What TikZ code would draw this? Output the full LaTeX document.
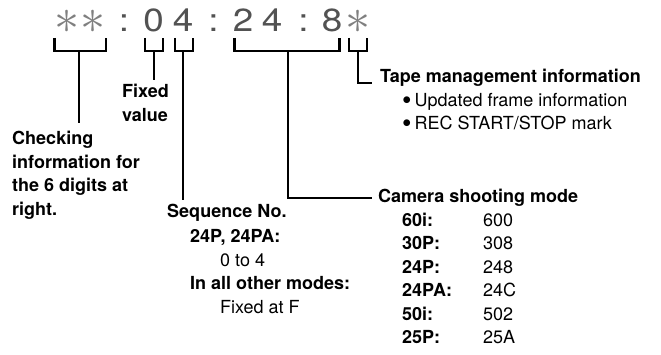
\documentclass[tikz,border=0pt]{standalone}
\usepackage{fontspec}
\setmainfont{TeX Gyre Heros}
\usepackage{graphicx}

\begin{document}
\begin{tikzpicture}[x=1pt, y=-1pt, font=\fontsize{18}{23.5}\selectfont,
		lbl/.style={anchor=base west, inner sep=0pt},
		bold/.style={lbl, font=\fontsize{18}{23.5}\selectfont\bfseries},
		digit/.style={anchor=base, inner sep=0pt, text=black!68, font=\fontsize{32}{32}\selectfont},
		star/.style={inner sep=0pt, text=black!50},
		bracket/.style={line width=2.5pt, line join=miter}]
		\useasboundingbox (0,0) rectangle (661,355);
		% time code
		\foreach \ch/\x [count=\i] in {:/124, 0/153.5, 4/183, :/213.5, 2/243, 4/272, :/303.5, 8/332}
			\node[digit] (t\i) at (\x,32) {\scalebox{1.15}[1]{\ch}};
		\foreach \x [count=\i] in {67,93,358}
			\node[star] (s\i) at (\x,22) {\scalebox{2.9}{$\ast$}};
		% brackets
		\draw[bracket] (54.5,38) -- (54.5,51) -- (106,51) -- (106,38);
		\draw[bracket] (145,38) -- (145,51) -- (163,51) -- (163,38);
		\draw[bracket] (175,38) -- (175,51) -- (193,51) -- (193,38);
		\draw[bracket] (234.5,38) -- (234.5,51) -- (339.5,51) -- (339.5,38);
		\draw[bracket] (349,38) -- (349,51) -- (367,51) -- (367,38);
		\coordinate (b1) at (79,51);
		\coordinate (b2) at (154,51);
		\coordinate (b3) at (183,51);
		\coordinate (b4) at (288,51);
		\coordinate (b5) at (358,51);
		% leader ends
		\coordinate (e1) at (79,123);
		\coordinate (e2) at (154,80);
		\coordinate (e3) at (183,200);
		\coordinate (e4) at (372,198);
		\coordinate (e5) at (372,83);
		\draw[bracket] (b1) -- (e1);
		\draw[bracket] (b2) -- (e2);
		\draw[bracket] (b3) -- (e3);
		\draw[bracket] (b4) |- (e4);
		\draw[bracket] (b5) |- (e5);
		% checking information
		\node[bold] (chk1) at (12,145) {Checking};
		\node[bold] (chk2) at (12,168.5) {information for};
		\node[bold] (chk3) at (12,192) {the 6 digits at};
		\node[bold] (chk4) at (12,215.5) {right.};
		% fixed value
		\node[bold] (fix1) at (122,98) {Fixed};
		\node[bold] (fix2) at (122,122) {value};
		% sequence number
		\node[bold] (seq1) at (167,218) {Sequence No.};
		\node[bold] (seq2) at (190,243) {24P, 24PA:};
		\node[lbl] (seq3) at (220,267) {0 to 4};
		\node[bold] (seq4) at (190,290) {In all other modes:};
		\node[lbl] (seq5) at (220,313) {Fixed at F};
		% tape management
		\node[bold] (tape) at (380,83) {Tape management information};
		\node[lbl] (tape1) at (402,107) {\smash{\raisebox{-2.6pt}{\scalebox{1.5}{\textbullet}}}\,Updated frame information};
		\node[lbl] (tape2) at (402,130) {\smash{\raisebox{-2.6pt}{\scalebox{1.5}{\textbullet}}}\,REC START/STOP mark};
		% camera shooting mode
		\node[bold] (cam) at (378,203) {Camera shooting mode};
		\foreach \m/\v [count=\i] in {60i/600, 30P/308, 24P/248, 24PA/24C, 50i/502, 25P/25A} {
			\node[bold] (mode\i) at (402,203+23.4*\i) {\m:};
			\node[lbl] (val\i) at (483,203+23.4*\i) {\v};
		}
	\end{tikzpicture}
\end{document}
